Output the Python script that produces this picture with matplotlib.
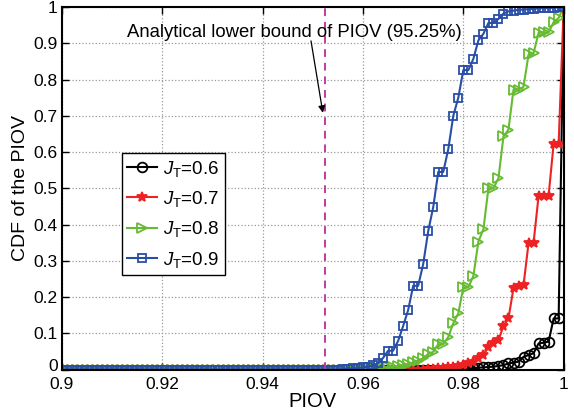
import numpy as np
import matplotlib
matplotlib.use('Agg')
import matplotlib.pyplot as plt
import matplotlib.transforms as mtransforms

plt.rcParams['font.family'] = ['Liberation Sans', 'DejaVu Sans']
plt.rcParams['mathtext.fontset'] = 'custom'
plt.rcParams['mathtext.rm'] = 'Liberation Sans'
plt.rcParams['mathtext.it'] = 'Liberation Sans:italic'

# PIOV grid (0.900 ... 1.000 step 0.001)
piov = np.round(np.arange(0.900, 1.0005, 0.001), 3)

# CDF values
cdf_06 = [0.0] * 80 + [0.002, 0.003, 0.004, 0.005, 0.006, 0.007, 0.008, 0.010, 0.012, 0.017,
                       0.019, 0.022, 0.035, 0.040, 0.045, 0.072, 0.074, 0.077, 0.141, 0.141,
                       1.0]
cdf_07 = [0.0] * 73 + [0.001, 0.002, 0.003, 0.004, 0.006, 0.008, 0.010, 0.013, 0.017, 0.022,
                       0.031, 0.040, 0.063, 0.072, 0.081, 0.120, 0.141, 0.225, 0.230, 0.233,
                       0.349, 0.350, 0.479, 0.479, 0.480, 0.623, 0.623, 1.0]
cdf_08 = [0.0] * 61 + [0.002, 0.003, 0.004, 0.005, 0.007, 0.008, 0.010, 0.012, 0.015, 0.020,
                       0.025, 0.031, 0.043, 0.049, 0.070, 0.070, 0.090, 0.128, 0.155, 0.227,
                       0.227, 0.258, 0.353, 0.387, 0.500, 0.500, 0.528, 0.643, 0.662, 0.772,
                       0.772, 0.780, 0.869, 0.873, 0.929, 0.930, 0.930, 0.958, 0.970, 1.0]
cdf_09 = [0.0] * 56 + [0.001, 0.002, 0.003, 0.004, 0.006, 0.008, 0.012, 0.018, 0.032, 0.052,
                       0.052, 0.079, 0.120, 0.164, 0.231, 0.231, 0.291, 0.382, 0.448, 0.545,
                       0.545, 0.608, 0.700, 0.750, 0.826, 0.826, 0.857, 0.908, 0.926, 0.956,
                       0.956, 0.967, 0.982, 0.988, 0.990, 0.992, 0.993, 0.994, 0.995, 0.996,
                       0.997, 0.997, 0.998, 0.999, 1.0]

bound = 0.9525
x_ticks = [0.9, 0.92, 0.94, 0.96, 0.98, 1.0]
x_labels = ['0.9', '0.92', '0.94', '0.96', '0.98', '1']
y_ticks = [0, 0.1, 0.2, 0.3, 0.4, 0.5, 0.6, 0.7, 0.8, 0.9, 1.0]
y_labels = ['0', '0.1', '0.2', '0.3', '0.4', '0.5', '0.6', '0.7', '0.8', '0.9', '1']

fig = plt.figure(figsize=(5.74, 4.12), dpi=100)
ax = fig.add_axes([0.108, 0.103, 0.874, 0.880])

ax.plot(piov, cdf_06, '-o', color='black', lw=1.5, ms=7, mfc='none', mew=1.3,
        label=r'$J_{\mathrm{T}}$=0.6')
ax.plot(piov, cdf_07, '-*', color='#ee2222', lw=1.5, ms=7, mew=1.3,
        label=r'$J_{\mathrm{T}}$=0.7')
ax.plot(piov, cdf_08, '->', color='#66bb33', lw=1.5, ms=7, mfc='none', mew=1.3,
        label=r'$J_{\mathrm{T}}$=0.8')
ax.plot(piov, cdf_09, '-s', color='#2a4ea6', lw=1.5, ms=6, mfc='none', mew=1.3,
        label=r'$J_{\mathrm{T}}$=0.9')

ax.axvline(bound, color='#c03ca0', lw=1.4, ls=(0, (4, 3)))
ax.annotate('Analytical lower bound of PIOV (95.25%)', xy=(0.952, 0.708),
            xytext=(0.9463, 0.93), ha='center', va='center', fontsize=13.3,
            arrowprops=dict(arrowstyle='-|>', color='black', lw=0.9,
                            mutation_scale=10, shrinkA=0, shrinkB=0,
                            patchA=None, relpos=(0.55, 0.0)))

ax.set_xlim(0.9, 1.0)
ax.set_ylim(0, 1)
ax.set_xticks(x_ticks)
ax.set_xticklabels(x_labels)
ax.set_yticks(y_ticks)
ax.set_yticklabels(y_labels)
ax.tick_params(direction='in', top=True, right=True, length=5, width=1,
               labelsize=12.5)
ax.tick_params(axis='x', pad=5)
ax.tick_params(axis='y', pad=3)
ax.grid(True, ls=':', color='#999999', lw=0.9)
for s in ax.spines.values():
    s.set_linewidth(1.5)

# nudge the "0" label up a little so it does not run into "0.9"
lbl0 = ax.get_yticklabels()[0]
lbl0.set_transform(lbl0.get_transform() +
                   mtransforms.ScaledTranslation(0, 3 / 72, fig.dpi_scale_trans))

ax.set_xlabel('PIOV', fontsize=14.5, labelpad=0)
ax.set_ylabel('CDF of the PIOV', fontsize=14, labelpad=3)

leg = ax.legend(loc='upper left', bbox_to_anchor=(0.119, 0.597), borderaxespad=0,
                fontsize=13.5, fancybox=False, framealpha=1, edgecolor='black',
                handlelength=1.6, handletextpad=0.3, labelspacing=0.55,
                borderpad=0.3)
leg.get_frame().set_linewidth(1.0)

fig.savefig('out.png', dpi=100)
